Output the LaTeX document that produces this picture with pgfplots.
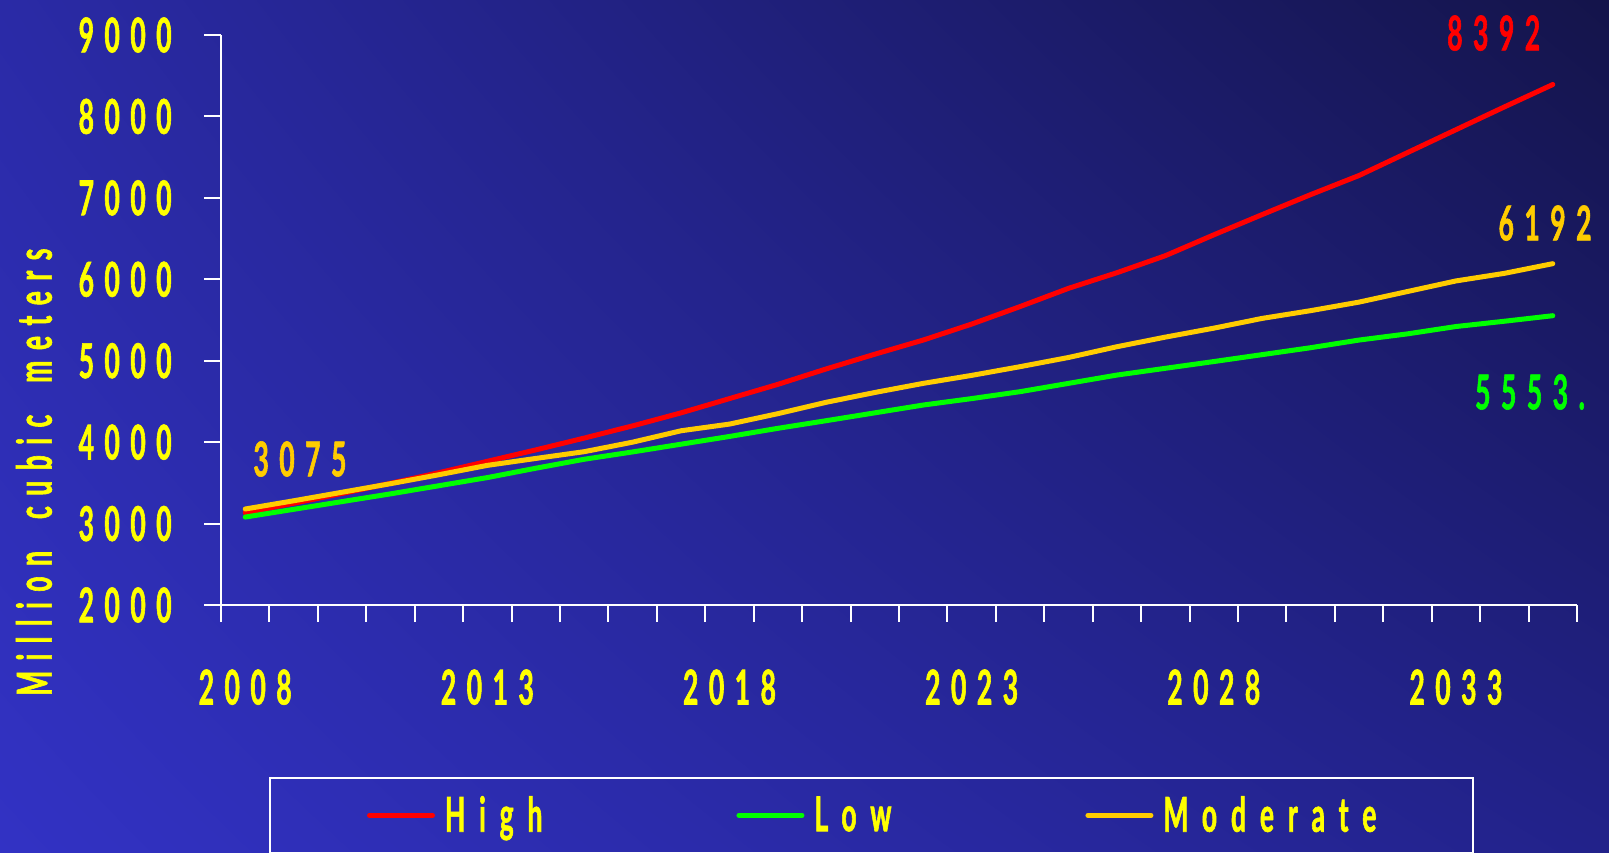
\documentclass[border=0pt]{standalone}
\usepackage{fontspec}
\setmainfont{Lato}[FakeStretch=0.55, LetterSpace=22, BoldFeatures={FakeBold=1.2}]
\usepackage{pgfplots}
\usepackage{pgfplotstable}
\usetikzlibrary{shadings}
\pgfplotsset{compat=1.18}
\definecolor{hi}{RGB}{255,0,0}
\definecolor{lo}{RGB}{0,255,0}
\definecolor{mo}{RGB}{255,204,0}
\definecolor{ty}{RGB}{255,255,0}
\definecolor{bgUL}{RGB}{42,42,166}
\definecolor{bgUR}{RGB}{20,20,74}
\definecolor{bgLL}{RGB}{50,50,196}
\definecolor{bgLR}{RGB}{34,34,138}
\newcommand{\gf}{\bfseries\fontsize{24}{26}\selectfont}
\newcommand{\lf}{\bfseries\fontsize{24}{26}\selectfont\addfontfeatures{LetterSpace=29}}

\pgfplotstableread{
i high low moderate
0 3134 3080 3179
1 3250 3175 3280
2 3370 3270 3385
3 3495 3365 3490
4 3625 3465 3600
5 3765 3565 3715
6 3905 3680 3800
7 4050 3790 3883
8 4200 3880 4000
9 4360 3975 4140
10 4535 4070 4222
11 4710 4170 4350
12 4900 4264 4490
13 5080 4360 4610
14 5254 4456 4722
15 5450 4535 4820
16 5665 4620 4927
17 5889 4722 5040
18 6081 4824 5172
19 6290 4907 5290
20 6546 4990 5400
21 6795 5075 5520
22 7040 5160 5615
23 7275 5254 5720
24 7556 5330 5850
25 7837 5420 5980
26 8117 5485 6073
27 8392 5553 6192
}\data

\begin{document}
\begin{tikzpicture}
\shade[upper left=bgUL, upper right=bgUR, lower left=bgLL, lower right=bgLR] (0,0) rectangle (804.5pt,-426pt);
\begin{axis}[
  at={(110.5pt,-302.5pt)}, anchor=south west,
  scale only axis, width=678pt, height=285pt,
  xmin=-0.5, xmax=27.5, ymin=2000, ymax=9000,
  axis lines=left, axis line style={-, white, line width=1pt},
  tick align=outside, major tick length=8.5pt,
  tick style={white, line width=1pt},
  xtick={-0.5,0.5,...,27.5}, xticklabel=\relax,
  extra x ticks={0,5,10,15,20,25},
  extra x tick labels={2008,2013,2018,2023,2028,2033},
  extra x tick style={major tick length=0pt},
  ytick={2000,3000,...,9000},
  /pgf/number format/assume math mode=true,
  /pgf/number format/1000 sep={},
  ticklabel style={font=\gf, text=ty, inner sep=0pt},
  xticklabel style={anchor=north, yshift=-32pt},
  yticklabel style={anchor=east, xshift=-16pt},
  ylabel={Million\hspace{16pt}cubic\hspace{16pt}meters},
  ylabel style={at={(axis description cs:-0.1379,0.233)}, anchor=center, font=\gf, text=ty},
  clip=false,
  legend columns=3,
  legend style={at={(axis description cs:0.0354,-0.3018)}, anchor=north west,
    draw=white, line width=1pt, fill=none, font=\lf, text=ty,
    inner xsep=48.5pt, inner ysep=9pt,
    nodes={inner sep=0pt, anchor=west},
    /tikz/every odd column/.append style={column sep=5pt},
    /tikz/every even column/.append style={column sep=97pt}},
  legend image code/.code={\draw[#1, line width=2.5pt] (0pt,0pt) -- (31.5pt,0pt);},
  every axis plot/.append style={line width=2.5pt, line cap=round, line join=round},
]
\addplot[hi] table[x=i, y=high] {\data};
\addlegendentry{High}
\addplot[lo] table[x=i, y=low] {\data};
\addlegendentry{Low}
\addplot[mo] table[x=i, y=moderate] {\data};
\addlegendentry{Moderate}
\node[font=\gf, text=hi] at (axis cs:25.78,9024) {8392};
\node[font=\gf, text=mo] at (axis cs:26.84,6691) {6192};
\node[font=\gf, text=lo] at (axis cs:26.53,4616) {5553.};
\node[font=\gf, text=mo] at (axis cs:1.13,3793) {3075};
\end{axis}
\pgfresetboundingbox
\useasboundingbox (0,0) rectangle (804.5pt,-426pt);
\end{tikzpicture}
\end{document}
